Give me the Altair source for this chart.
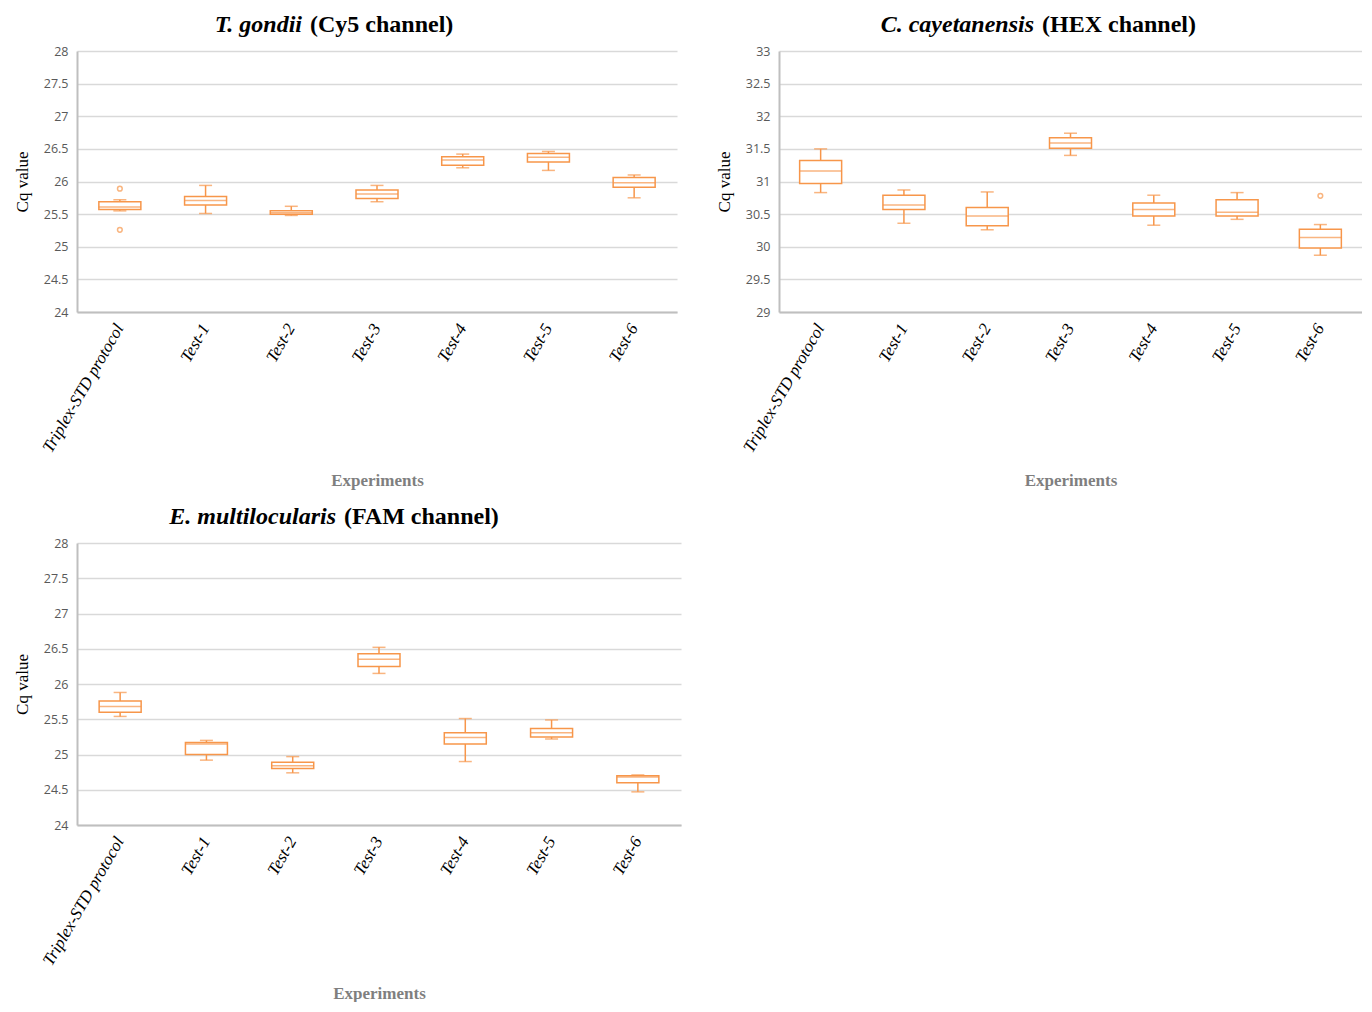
import altair as alt
import pandas as pd

categories = ["Triplex-STD protocol", "Test-1", "Test-2", "Test-3", "Test-4", "Test-5", "Test-6"]

# T. gondii (Cy5)
tg_lo  = [25.55, 25.51, 25.48, 25.69, 26.21, 26.17, 25.75]
tg_q1  = [25.57, 25.64, 25.50, 25.74, 26.25, 26.30, 25.91]
tg_med = [25.61, 25.71, 25.52, 25.81, 26.33, 26.37, 25.98]
tg_q3  = [25.69, 25.77, 25.55, 25.87, 26.38, 26.43, 26.06]
tg_hi  = [25.72, 25.94, 25.62, 25.94, 26.42, 26.46, 26.10]
tg_out_cat = ["Triplex-STD protocol", "Triplex-STD protocol"]
tg_out_val = [25.89, 25.26]

# C. cayetanensis (HEX)
cc_lo  = [30.83, 30.36, 30.26, 31.40, 30.33, 30.42, 29.87]
cc_q1  = [30.97, 30.57, 30.32, 31.51, 30.47, 30.47, 29.98]
cc_med = [31.16, 30.64, 30.47, 31.59, 30.57, 30.53, 30.14]
cc_q3  = [31.32, 30.79, 30.60, 31.67, 30.67, 30.72, 30.27]
cc_hi  = [31.50, 30.87, 30.84, 31.74, 30.79, 30.83, 30.34]
cc_out_cat = ["Test-6"]
cc_out_val = [30.78]

# E. multilocularis (FAM)
em_lo  = [25.54, 24.92, 24.74, 26.15, 24.90, 25.22, 24.47]
em_q1  = [25.60, 25.00, 24.80, 26.25, 25.15, 25.25, 24.60]
em_med = [25.68, 25.15, 24.84, 26.35, 25.24, 25.31, 24.68]
em_q3  = [25.76, 25.17, 24.89, 26.43, 25.31, 25.37, 24.70]
em_hi  = [25.88, 25.20, 24.97, 26.52, 25.51, 25.49, 24.71]
em_out_cat = []
em_out_val = []

ORANGE = "#F7964A"
SERIF = "Liberation Serif"
LABEL_FONT = "Open Sans"


def panel(lo, q1, med, q3, hi, out_cat, out_val, ymin, ymax, italic, rest,
          split, width, height):
    df = pd.DataFrame({"cat": categories, "lo": lo, "q1": q1, "med": med,
                       "q3": q3, "hi": hi})
    ticks = [ymin + 0.5 * i for i in range(int((ymax - ymin) / 0.5) + 1)]
    xaxis = alt.Axis(labelAngle=300, labelFont=SERIF, labelFontStyle="italic",
                     labelFontSize=17, labelColor="#000000", labelPadding=13,
                     ticks=False, domainColor="#BFBFBF", domainWidth=2,
                     titleFont=SERIF, titleFontWeight="bold", titleFontSize=17,
                     titleColor="#7F7F7F", titlePadding=18)
    xscale = alt.Scale(paddingInner=0, paddingOuter=0)
    yscale = alt.Scale(domain=[ymin, ymax], nice=False, zero=False)
    yaxis = alt.Axis(values=ticks, format="~g", labelFont=LABEL_FONT, labelFontSize=12.5,
                     labelColor="#595959", labelPadding=9, ticks=False, labelOverlap=False,
                     domainColor="#BFBFBF", domainWidth=2, gridColor="#D9D9D9",
                     gridWidth=1.3, titleFont=SERIF, titleFontSize=17,
                     titleFontWeight="normal", titleColor="#000000", titlePadding=12)
    X = alt.X("cat:N", sort=categories, title="Experiments", scale=xscale, axis=xaxis)

    def Y(field):
        return alt.Y(field, type="quantitative", scale=yscale, axis=yaxis, title="Cq value")

    base = alt.Chart(df)
    whisker = base.mark_rule(color=ORANGE, strokeWidth=1.5).encode(
        x=X, y=Y("lo"), y2="hi:Q")
    box = base.mark_bar(size=42, fill="white", stroke=ORANGE, strokeWidth=1.5).encode(
        x=X, y=Y("q1"), y2="q3:Q")
    median = base.mark_tick(color=ORANGE, thickness=1.5, size=42).encode(
        x=X, y=Y("med"))
    cap_lo = base.mark_tick(color=ORANGE, thickness=1.5, size=13).encode(
        x=X, y=Y("lo"))
    cap_hi = base.mark_tick(color=ORANGE, thickness=1.5, size=13).encode(
        x=X, y=Y("hi"))
    layers = [whisker, box, median, cap_lo, cap_hi]
    if out_cat:
        odf = pd.DataFrame({"cat": out_cat, "val": out_val})
        layers.append(alt.Chart(odf).mark_point(color=ORANGE, size=22, strokeWidth=1.5,
                                                filled=False).encode(
            x=X, y=Y("val")))
    tdf = pd.DataFrame({"a": [italic], "b": [rest]})
    t1 = alt.Chart(tdf).mark_text(font=SERIF, fontSize=24, fontWeight="bold",
                                  fontStyle="italic", align="right", baseline="alphabetic",
                                  color="#000000").encode(
        text="a:N", x=alt.value(split), y=alt.value(-19))
    t2 = alt.Chart(tdf).mark_text(font=SERIF, fontSize=24, fontWeight="bold",
                                  align="left", baseline="alphabetic",
                                  color="#000000").encode(
        text="b:N", x=alt.value(split + 8), y=alt.value(-19))
    layers += [t1, t2]
    return alt.layer(*layers).properties(width=width, height=height)


p1 = panel(tg_lo, tg_q1, tg_med, tg_q3, tg_hi, tg_out_cat, tg_out_val, 24, 28,
           "T. gondii", "(Cy5 channel)", 225, 600, 261)
p2 = panel(cc_lo, cc_q1, cc_med, cc_q3, cc_hi, cc_out_cat, cc_out_val, 29, 33,
           "C. cayetanensis", "(HEX channel)", 255, 583, 261)
p3 = panel(em_lo, em_q1, em_med, em_q3, em_hi, em_out_cat, em_out_val, 24, 28,
           "E. multilocularis", "(FAM channel)", 259, 604, 282)

chart = alt.vconcat(
    alt.hconcat(p1, p2, spacing=38),
    p3,
    spacing=16,
).properties(
    padding={"left": 5, "top": 5, "right": 0, "bottom": 0}
).configure_view(stroke=None)

chart.save("out.html", embed_options={"renderer": "svg", "actions": False})
